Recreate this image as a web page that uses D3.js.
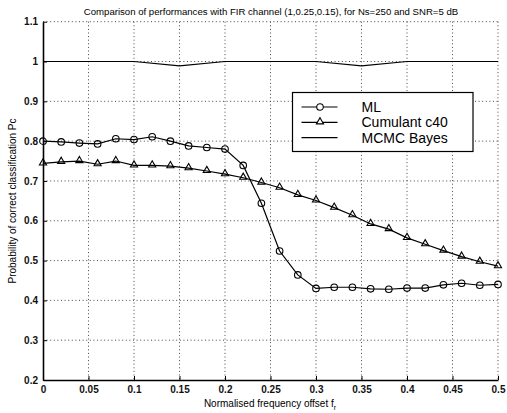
<!DOCTYPE html>
<html>
<head>
<meta charset="utf-8">
<script src="https://cdn.jsdelivr.net/npm/d3@7"></script>
<style>
  body { margin: 0; background: #fff; }
  svg { display: block; font-family: "Liberation Sans", Arial, sans-serif; }
  .axis text { font-size: 10px; font-weight: bold; fill: #111; }
  .axis .domain { stroke: #000; stroke-width: 1.6; }
  .axis .tick line { stroke: #000; }
  .grid line { stroke: #333; stroke-dasharray: 1,2.6; stroke-width: 0.9; }
</style>
</head>
<body>
<div id="chartDiv"></div>
<script>
// data
var offsets = [0, 0.02, 0.04, 0.06, 0.08, 0.10, 0.12, 0.14, 0.16, 0.18, 0.20, 0.22, 0.24,
               0.26, 0.28, 0.30, 0.32, 0.34, 0.36, 0.38, 0.40, 0.42, 0.44, 0.46, 0.48, 0.50];
var mlValues = [0.800, 0.798, 0.795, 0.793, 0.806, 0.804, 0.811, 0.800, 0.788, 0.784, 0.780, 0.739, 0.644,
                0.524, 0.464, 0.430, 0.433, 0.433, 0.429, 0.428, 0.431, 0.431, 0.439, 0.443, 0.438, 0.440];
var cumulantValues = [0.744, 0.748, 0.750, 0.742, 0.750, 0.739, 0.739, 0.737, 0.732, 0.725, 0.717, 0.708, 0.696,
                      0.683, 0.665, 0.651, 0.633, 0.614, 0.592, 0.579, 0.557, 0.541, 0.525, 0.510, 0.497, 0.486];
var bayesOffsets = [0, 0.05, 0.10, 0.15, 0.20, 0.25, 0.30, 0.35, 0.40, 0.45, 0.50];
var bayesValues = [1, 1, 1, 0.989, 1, 1, 1, 0.989, 1, 1, 1];

var xTicks = [0, 0.05, 0.1, 0.15, 0.2, 0.25, 0.3, 0.35, 0.4, 0.45, 0.5];
var xTickLabels = ["0", "0.05", "0.1", "0.15", "0.2", "0.25", "0.3", "0.35", "0.4", "0.45", "0.5"];
var yTicks = [0.2, 0.3, 0.4, 0.5, 0.6, 0.7, 0.8, 0.9, 1, 1.1];
var yTickLabels = ["0.2", "0.3", "0.4", "0.5", "0.6", "0.7", "0.8", "0.9", "1", "1.1"];

var legendNames = ["ML", "Cumulant c40", "MCMC Bayes"];
var legendMarkers = ["circle", "triangle", "none"];

var titleText = "Comparison of performances with FIR channel (1,0.25,0.15),  for Ns=250 and SNR=5 dB";
var yLabelText = "Probability of correct classification Pc";

var margin = {top: 21.7, right: 9, bottom: 33, left: 43},
    width = 507 - margin.left - margin.right,
    height = 413 - margin.top - margin.bottom;

var x = d3.scaleLinear().domain([0, 0.5]).range([0, width]);
var y = d3.scaleLinear().domain([0.2, 1.1]).range([height, 0]);

var root = d3.select("#chartDiv").append("svg")
	.attr("width", 507)
	.attr("height", 413);

var svg = root.append("g")
	.attr("transform", "translate(" + margin.left + "," + margin.top + ")");

//dotted grid
svg.append("g")
	.attr("class", "grid")
	.selectAll("line.vg")
	.data(xTicks.slice(1))
	.enter().append("line")
	.attr("x1", function(d) { return x(d); })
	.attr("x2", function(d) { return x(d); })
	.attr("y1", 0)
	.attr("y2", height);

svg.append("g")
	.attr("class", "grid")
	.selectAll("line.hg")
	.data(yTicks.slice(1))
	.enter().append("line")
	.attr("x1", 0)
	.attr("x2", width)
	.attr("y1", function(d) { return y(d); })
	.attr("y2", function(d) { return y(d); });

//axes, ticks pointing inward
svg.append("g")
	.attr("class", "axis axis--x")
	.attr("transform", "translate(0," + height + ")")
	.call(d3.axisBottom(x)
		.tickValues(xTicks)
		.tickFormat(function(d, i) { return xTickLabels[i]; })
		.tickSize(-4)
		.tickSizeOuter(0)
		.tickPadding(6));

svg.append("g")
	.attr("class", "axis axis--y")
	.call(d3.axisLeft(y)
		.tickValues(yTicks)
		.tickFormat(function(d, i) { return yTickLabels[i]; })
		.tickSize(-4)
		.tickSizeOuter(0)
		.tickPadding(5));

//series lines
var line = d3.line()
	.x(function(d) { return x(d[0]); })
	.y(function(d) { return y(d[1]); });

var mlData = d3.zip(offsets, mlValues);
var cumData = d3.zip(offsets, cumulantValues);
var bayesData = d3.zip(bayesOffsets, bayesValues);

[mlData, cumData, bayesData].forEach(function(data) {
	svg.append("path")
		.datum(data)
		.attr("fill", "none")
		.attr("stroke", "#000")
		.attr("stroke-width", 1.2)
		.attr("d", line);
});

var triangle = d3.symbol().type(d3.symbolTriangle).size(22);

svg.selectAll(".ml-pt")
	.data(mlData)
	.enter().append("circle")
	.attr("class", "ml-pt")
	.attr("cx", function(d) { return x(d[0]); })
	.attr("cy", function(d) { return y(d[1]); })
	.attr("r", 3.3)
	.attr("fill", "none")
	.attr("stroke", "#000")
	.attr("stroke-width", 1.1);

svg.selectAll(".cum-pt")
	.data(cumData)
	.enter().append("path")
	.attr("class", "cum-pt")
	.attr("transform", function(d) { return "translate(" + x(d[0]) + "," + (y(d[1]) - 0.5) + ")"; })
	.attr("d", triangle)
	.attr("fill", "none")
	.attr("stroke", "#000")
	.attr("stroke-width", 1.1);

//legend
var legend = root.append("g")
	.attr("transform", "translate(292.5,92.5)");

legend.append("rect")
	.attr("width", 180.5)
	.attr("height", 59)
	.attr("fill", "#fff")
	.attr("stroke", "#000")
	.attr("stroke-width", 1.2);

var item = legend.selectAll(".item")
	.data(legendNames)
	.enter().append("g")
	.attr("class", "item")
	.attr("transform", function(d, i) { return "translate(0," + (14.5 + i * 15.3) + ")"; });

item.append("line")
	.attr("x1", 9)
	.attr("x2", 45)
	.attr("stroke", "#000")
	.attr("stroke-width", 1.2);

item.filter(function(d, i) { return legendMarkers[i] == "circle"; })
	.append("circle")
	.attr("cx", 27.5)
	.attr("r", 3.3)
	.attr("fill", "#fff")
	.attr("stroke", "#000")
	.attr("stroke-width", 1.1);

item.filter(function(d, i) { return legendMarkers[i] == "triangle"; })
	.append("path")
	.attr("transform", "translate(27.5,-0.5)")
	.attr("d", triangle)
	.attr("fill", "#fff")
	.attr("stroke", "#000")
	.attr("stroke-width", 1.1);

item.append("text")
	.attr("x", 69)
	.attr("dy", "0.36em")
	.style("font-size", "14px")
	.text(function(d) { return d; });

//title and labels
root.append("text")
	.attr("x", 271)
	.attr("y", 15)
	.attr("text-anchor", "middle")
	.style("font-size", "9.6px")
	.text(titleText);

var xl = root.append("text")
	.attr("x", 270)
	.attr("y", 407)
	.attr("text-anchor", "middle")
	.style("font-size", "10px");
xl.append("tspan").text("Normalised frequency offset f");
xl.append("tspan").attr("dy", 3).style("font-size", "7px").text("r");

root.append("text")
	.attr("transform", "translate(16,201) rotate(-90)")
	.attr("text-anchor", "middle")
	.style("font-size", "10px")
	.text(yLabelText);
</script>
</body>
</html>
